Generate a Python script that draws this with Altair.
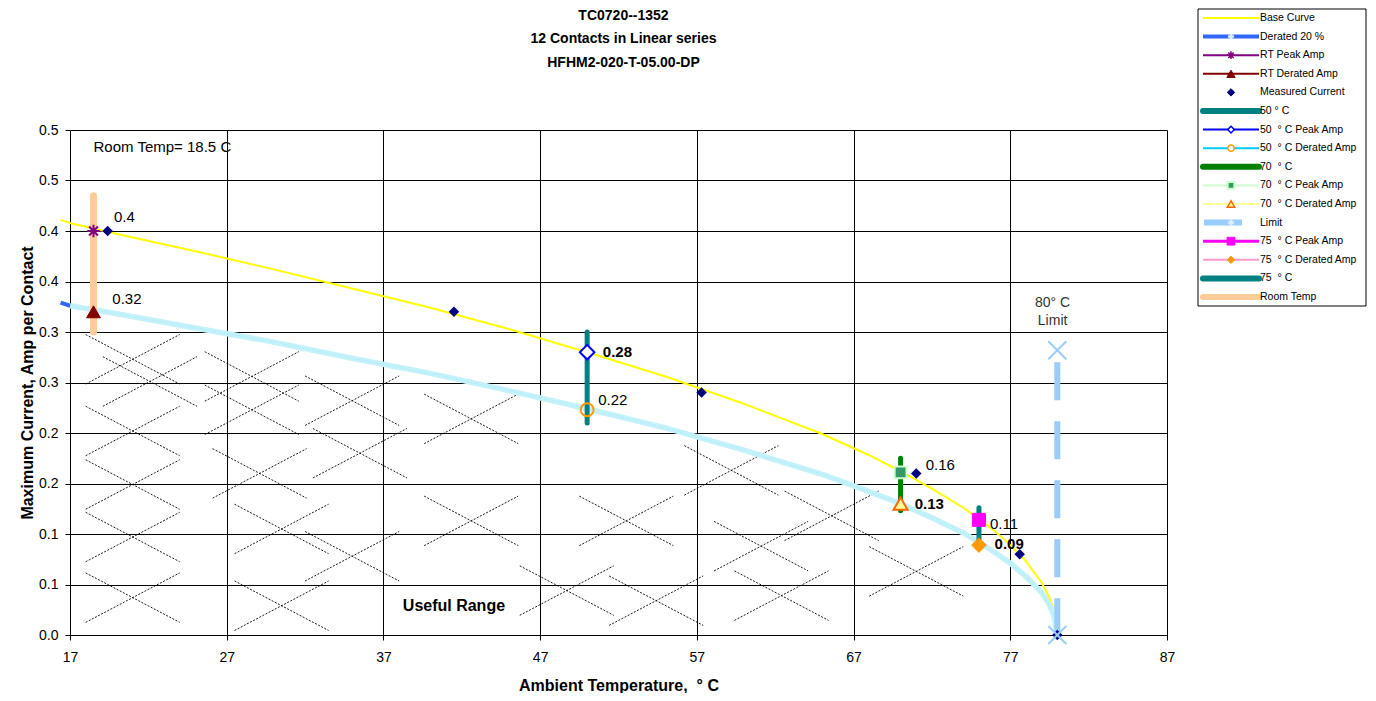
import json
import altair as alt
import pandas as pd

# ---------------- data ----------------
TITLE_LINES = ["TC0720--1352", "12 Contacts in Linear series", "HFHM2-020-T-05.00-DP"]
X_TITLE = "Ambient Temperature, \u00a0° C"
Y_TITLE = "Maximum Current, Amp per Contact"

X_TICKS = [17, 27, 37, 47, 57, 67, 77, 87]
Y_TICKS = [0.0, 0.05, 0.1, 0.15, 0.2, 0.25, 0.3, 0.35, 0.4, 0.45, 0.5]
Y_TICK_LABELS = ["0.0", "0.1", "0.1", "0.2", "0.2", "0.3", "0.3", "0.4", "0.4", "0.5", "0.5"]

CURVE_T = [16.4, 17, 20, 25, 30, 35, 40, 45, 50, 55, 60, 65, 68, 70, 72, 74, 75, 76, 77, 78, 79, 79.5, 79.8, 80]
BASE_V = [0.411, 0.408, 0.397, 0.380, 0.362, 0.343, 0.324, 0.303, 0.280, 0.256, 0.229, 0.199, 0.178,
          0.162, 0.145, 0.126, 0.115, 0.103, 0.089, 0.073, 0.052, 0.037, 0.023, 0.0]
DERATED_V = [0.329, 0.326, 0.318, 0.304, 0.290, 0.274, 0.259, 0.242, 0.224, 0.205, 0.183, 0.159, 0.142,
             0.130, 0.116, 0.101, 0.092, 0.082, 0.071, 0.058, 0.042, 0.030, 0.018, 0.0]

MEASURED_T = [19.4, 41.5, 57.3, 71.0, 77.6, 80.0]
MEASURED_V = [0.40, 0.32, 0.24, 0.16, 0.08, 0.0]

BAR_NAMES = ["Room Temp", "50 ° C", "70 ° C", "75 ° C"]
BAR_T = [18.5, 50, 70, 75]
BAR_LO = [0.300, 0.210, 0.123, 0.090]
BAR_HI = [0.435, 0.300, 0.175, 0.126]

LIMIT_T = [80, 80]
LIMIT_V = [0.270, 0.0]

POINT_NAMES = ["RT Peak Amp", "RT Derated Amp", "50 ° C Peak Amp", "50 ° C Derated Amp",
               "70 ° C Peak Amp", "70 ° C Derated Amp", "75 ° C Peak Amp", "75 ° C Derated Amp",
               "Limit", "Limit zero"]
POINT_T = [18.5, 18.5, 50, 50, 70, 70, 75, 75, 80, 80]
POINT_V = [0.400, 0.320, 0.280, 0.223, 0.161, 0.130, 0.114, 0.089, 0.282, 0.0]

VALUE_TEXT = ["0.4", "0.32", "0.28", "0.22", "0.16", "0.13", "0.11", "0.09"]
VALUE_T = [19.8, 19.7, 51.0, 50.7, 71.6, 70.9, 75.7, 76.0]
VALUE_V = [0.414, 0.333, 0.280, 0.233, 0.168, 0.130, 0.110, 0.090]
VALUE_BOLD = [False, False, True, False, False, True, False, True]

NOTE_TEXT = ["Room Temp= 18.5 C", "80° C", "Limit"]
NOTE_T = [18.5, 79.7, 79.7]
NOTE_V = [0.483, 0.329, 0.311]
USEFUL_TEXT = ["Useful Range"]
USEFUL_T = [41.5]
USEFUL_V = [0.029]

# centres of the dashed "X" hatch marks of the useful range
HATCH_T = [21.0, 22.1, 21.0, 21.0, 21.0, 21.0, 28.6, 28.6, 29.1, 30.5, 30.5, 35.0, 35.0, 35.5,
           42.6, 42.6, 48.7, 52.5, 59.2, 61.1, 65.6, 62.4, 71.0, 54.4]
HATCH_V = [0.273, 0.251, 0.202, 0.149, 0.097, 0.037, 0.256, 0.223, 0.160, 0.105, 0.029, 0.232, 0.078, 0.180,
           0.214, 0.113, 0.044, 0.113, 0.163, 0.088, 0.118, 0.039, 0.063, 0.034]

LEGEND_LABELS = ["Base Curve", "Derated 20 %", "RT Peak Amp", "RT Derated Amp", "Measured Current",
                 "50 ° C", "50 \u00a0° C Peak Amp", "50 \u00a0° C Derated Amp", "70 \u00a0° C",
                 "70 \u00a0° C Peak Amp", "70 \u00a0° C Derated Amp", "Limit", "75 \u00a0° C Peak Amp",
                 "75 \u00a0° C Derated Amp", "75 \u00a0° C", "Room Temp"]

# ---------------- tables ----------------
curve_df = pd.DataFrame({"t": CURVE_T, "base": BASE_V, "derated": DERATED_V})
measured_df = pd.DataFrame({"t": MEASURED_T, "v": MEASURED_V})
bar_df = pd.DataFrame({"name": BAR_NAMES, "t": BAR_T, "lo": BAR_LO, "hi": BAR_HI})
limit_df = pd.DataFrame({"t": LIMIT_T, "v": LIMIT_V, "o": [0, 1]})
point_df = pd.DataFrame({"name": POINT_NAMES, "t": POINT_T, "v": POINT_V})
value_df = pd.DataFrame({"label": VALUE_TEXT, "t": VALUE_T, "v": VALUE_V, "bold": VALUE_BOLD})
note_df = pd.DataFrame({"label": NOTE_TEXT, "t": NOTE_T, "v": NOTE_V})
useful_df = pd.DataFrame({"label": USEFUL_TEXT, "t": USEFUL_T, "v": USEFUL_V})
hatch_df = pd.DataFrame({"cx": HATCH_T, "cy": HATCH_V})
legend_df = pd.DataFrame({"label": LEGEND_LABELS, "i": list(range(len(LEGEND_LABELS)))})
box_df = pd.DataFrame({"k": [0]})

FONT = "Liberation Sans"
W, H = 1097, 505
HW, HH = 3.0, 0.0245  # half extents of one hatch X

XS = alt.Scale(domain=[17, 87], nice=False, zero=False)
YS = alt.Scale(domain=[0, 0.5], nice=False, zero=False)
XAXIS = alt.Axis(values=X_TICKS, grid=True, gridColor="black", gridOpacity=1, gridWidth=1,
                 domainColor="black", tickColor="black", tickSize=5, labelFontSize=14,
                 labelColor="black", labelPadding=10, labelFont=FONT, titleFont=FONT, labelFlush=False,
                 titleFontSize=16, titleFontWeight="bold", titleColor="black", titlePadding=13,
                 title=X_TITLE)
YAXIS = alt.Axis(values=Y_TICKS, grid=True, gridColor="black", gridOpacity=1, gridWidth=1,
                 domainColor="black", tickColor="black", tickSize=5, labelFontSize=14,
                 labelColor="black", labelPadding=7, labelFont=FONT, titleFont=FONT, labelFlush=False,
                 labelExpr=json.dumps(Y_TICK_LABELS) + "[round(datum.value*20)]",
                 titleFontSize=16, titleFontWeight="bold", titleColor="black", titlePadding=3,
                 title=Y_TITLE)


def X(f="t"):
    return alt.X(f"{f}:Q", scale=XS, axis=XAXIS)


def Y(f="v"):
    return alt.Y(f"{f}:Q", scale=YS, axis=YAXIS)


layers = []

# hatch
hatch = alt.Chart(hatch_df).transform_calculate(
    a1="datum.cx - %f" % HW, a2="datum.cx + %f" % HW,
    b1="datum.cy - %f" % HH, b2="datum.cy + %f" % HH,
).transform_fold(["d", "u"], as_=["dir", "k"]).transform_calculate(
    sy1="datum.dir == 'd' ? datum.b2 : datum.b1",
    sy2="datum.dir == 'd' ? datum.b1 : datum.b2",
)
layers.append(hatch.mark_rule(color="black", strokeWidth=0.9, strokeDash=[2, 1.5]).encode(
    x=X("a1"), x2="a2", y=Y("sy1"), y2="sy2"))

# curves
layers.append(alt.Chart(curve_df).mark_line(color="#FFFF00", strokeWidth=2).encode(
    x=X(), y=Y("base")))
layers.append(alt.Chart(curve_df).mark_line(color="#3366FF", strokeWidth=4).encode(
    x=X(), y=Y("derated")))
layers.append(alt.Chart(curve_df).transform_filter("datum.t >= 17").mark_line(
    color="#C4F2FA", strokeWidth=5.5).encode(x=X(), y=Y("derated")))
layers.append(alt.Chart(curve_df).transform_filter("datum.t >= 17").mark_line(
    color="#A8E2F4", strokeWidth=1, strokeDash=[1, 2]).encode(x=X(), y=Y("derated")))

# vertical bars
BAR_STYLE = {"Room Temp": ("#FFCC99", 7), "50 ° C": ("#008080", 5), "70 ° C": ("#008000", 5),
             "75 ° C": ("#008080", 5)}
for nm, (col, w) in BAR_STYLE.items():
    layers.append(alt.Chart(bar_df).transform_filter(alt.datum.name == nm).mark_rule(
        color=col, strokeWidth=w, strokeCap="round").encode(x=X(), y=Y("lo"), y2="hi"))

# limit dashed line
layers.append(alt.Chart(limit_df).mark_line(color="#99CCFF", strokeWidth=6, strokeDash=[38, 21],
                                            strokeCap="butt").encode(
    x=X(), y=Y(), order="o:Q"))

# measured current
layers.append(alt.Chart(measured_df).mark_point(shape="diamond", size=110, filled=True,
                                                color="#000080", opacity=1).encode(x=X(), y=Y()))

ASTERISK = "M-1,0L1,0M0,-1L0,1M-0.7,-0.7L0.7,0.7M-0.7,0.7L0.7,-0.7"
XSHAPE = "M-1,-1L1,1M-1,1L1,-1"
POINT_STYLE = {
    "RT Peak Amp": dict(shape=ASTERISK, size=160, fill="transparent", stroke="#800080", strokeWidth=2),
    "RT Derated Amp": dict(shape="triangle-up", size=190, fill="#800000", stroke="#800000", strokeWidth=1),
    "50 ° C Peak Amp": dict(shape="diamond", size=215, fill="white", stroke="#0000FF", strokeWidth=2),
    "50 ° C Derated Amp": dict(shape="circle", size=165, fill="transparent", stroke="#FF9900", strokeWidth=2),
    "70 ° C Peak Amp": dict(shape="square", size=140, fill="#339966", stroke="#CCFFCC", strokeWidth=2),
    "70 ° C Derated Amp": dict(shape="triangle-up", size=200, fill="#FFFF99", stroke="#FF6600", strokeWidth=2),
    "75 ° C Peak Amp": dict(shape="square", size=170, fill="#FF00FF", stroke="#FF00FF", strokeWidth=1),
    "75 ° C Derated Amp": dict(shape="diamond", size=215, fill="#FF9900", stroke="#FF9900", strokeWidth=1),
    "Limit": dict(shape=XSHAPE, size=324, fill="transparent", stroke="#99CCFF", strokeWidth=2),
    "Limit zero": dict(shape=XSHAPE, size=324, fill="transparent", stroke="#99CCFF", strokeWidth=2),
}
for nm, st in POINT_STYLE.items():
    layers.append(alt.Chart(point_df).transform_filter(alt.datum.name == nm).mark_point(
        opacity=1, **st).encode(x=X(), y=Y()))

# value labels
for bold in (False, True):
    layers.append(alt.Chart(value_df).transform_filter(alt.datum.bold == bold).mark_text(
        align="left", baseline="middle", fontSize=15, font=FONT, color="black",
        fontWeight="bold" if bold else "normal").encode(x=X(), y=Y(), text="label:N"))

layers.append(alt.Chart(note_df).transform_filter("datum.label == 'Room Temp= 18.5 C'").mark_text(
    align="left", baseline="middle", fontSize=15, font=FONT, color="black").encode(
    x=X(), y=Y(), text="label:N"))
layers.append(alt.Chart(note_df).transform_filter("datum.label != 'Room Temp= 18.5 C'").mark_text(
    align="center", baseline="middle", fontSize=14, font=FONT, color="#333333").encode(
    x=X(), y=Y(), text="label:N"))
layers.append(alt.Chart(useful_df).mark_text(
    align="center", baseline="middle", fontSize=16, font=FONT, fontWeight="bold", color="black").encode(
    x=X(), y=Y(), text="label:N"))

plot = alt.layer(*layers)

# ---------------- legend (own scales, placed to the upper right of the plot) ----------------
# legend units are pixels: x from the legend box's left edge, y from its top edge
LX = alt.Scale(domain=[-1128, -1128 + W], nice=False, zero=False)
LY = alt.Scale(domain=[121, 121 + H], nice=False, zero=False, reverse=True)
BOX_W, BOX_H, ROW0, ROW_STEP = 168, 297, 9, 18.6

LEG_LINE = {
    "Base Curve": ("#FFFF00", 2),
    "Derated 20 %": ("#3366FF", 4),
    "RT Peak Amp": ("#800080", 2),
    "RT Derated Amp": ("#800000", 2),
    "50 ° C": ("#008080", 6),
    "50 \u00a0° C Peak Amp": ("#0000FF", 2),
    "50 \u00a0° C Derated Amp": ("#00CCFF", 2),
    "70 \u00a0° C": ("#008000", 6),
    "70 \u00a0° C Peak Amp": ("#CCFFCC", 2),
    "70 \u00a0° C Derated Amp": ("#FFFF99", 2),
    "75 \u00a0° C Peak Amp": ("#FF00FF", 3),
    "75 \u00a0° C Derated Amp": ("#FF99CC", 2),
    "75 \u00a0° C": ("#008080", 6),
    "Room Temp": ("#FFCC99", 6),
}
LEG_MARK = {
    "Derated 20 %": dict(shape="cross", size=30, fill="#DDEEFF", stroke="#DDEEFF", strokeWidth=0.5),
    "RT Peak Amp": dict(shape=ASTERISK, size=60, fill="transparent", stroke="#800080", strokeWidth=1.5),
    "RT Derated Amp": dict(shape="triangle-up", size=70, fill="#800000", stroke="#800000", strokeWidth=1),
    "Measured Current": dict(shape="diamond", size=55, fill="#000080", stroke="#000080", strokeWidth=1),
    "50 \u00a0° C Peak Amp": dict(shape="diamond", size=45, fill="white", stroke="#0000FF", strokeWidth=1.5),
    "50 \u00a0° C Derated Amp": dict(shape="circle", size=40, fill="white", stroke="#FF9900", strokeWidth=1.5),
    "70 \u00a0° C Peak Amp": dict(shape="square", size=45, fill="#339966", stroke="#CCFFCC", strokeWidth=2),
    "70 \u00a0° C Derated Amp": dict(shape="triangle-up", size=55, fill="#FFFF99", stroke="#FF6600", strokeWidth=1.5),
    "Limit": dict(shape="cross", size=30, fill="#DDEEFF", stroke="#DDEEFF", strokeWidth=0.5),
    "75 \u00a0° C Peak Amp": dict(shape="square", size=60, fill="#FF00FF", stroke="#FF00FF", strokeWidth=1),
    "75 \u00a0° C Derated Amp": dict(shape="diamond", size=55, fill="#FF9900", stroke="#FF9900", strokeWidth=1),
}

leg_base = alt.Chart(legend_df).transform_calculate(yy="datum.i * %f + %f" % (ROW_STEP, ROW0))
LYY = alt.Y("yy:Q", scale=LY, axis=None)

leg_layers = [alt.Chart(box_df).mark_rect(fill="white", stroke="black", strokeWidth=1).encode(
    x=alt.XDatum(0, scale=LX, axis=None), x2=alt.X2Datum(BOX_W),
    y=alt.YDatum(0, scale=LY, axis=None), y2=alt.Y2Datum(BOX_H))]
for nm, (col, w) in LEG_LINE.items():
    cap = "round" if w >= 5 else "butt"
    leg_layers.append(leg_base.transform_filter(alt.datum.label == nm).mark_rule(
        color=col, strokeWidth=w, strokeCap=cap).encode(
        x=alt.XDatum(5, scale=LX, axis=None), x2=alt.X2Datum(61), y=LYY))
leg_layers.append(leg_base.transform_filter(alt.datum.label == "Limit").mark_rule(
    color="#99CCFF", strokeWidth=6).encode(
    x=alt.XDatum(6, scale=LX, axis=None), x2=alt.X2Datum(44), y=LYY))
for nm, st in LEG_MARK.items():
    leg_layers.append(leg_base.transform_filter(alt.datum.label == nm).mark_point(
        opacity=1, **st).encode(x=alt.XDatum(33, scale=LX, axis=None), y=LYY))
leg_layers.append(leg_base.mark_text(
    align="left", baseline="middle", fontSize=10.5, font=FONT, color="black").encode(
    x=alt.XDatum(62, scale=LX, axis=None), y=LYY, text="label:N"))

legend = alt.layer(*leg_layers)

chart = alt.layer(plot, legend).resolve_scale(x="independent", y="independent").properties(
    width=W, height=H,
    title=alt.TitleParams(text=TITLE_LINES, fontSize=14, fontWeight="bold", font=FONT, color="black",
                          anchor="middle", frame="group", lineHeight=23.5, offset=-61, dx=5),
    padding={"left": 11, "top": 0, "right": 0, "bottom": 0},
).configure_view(stroke="black", strokeWidth=1).configure(font=FONT)

chart.save("out.html", embed_options={"renderer": "svg", "actions": False})
